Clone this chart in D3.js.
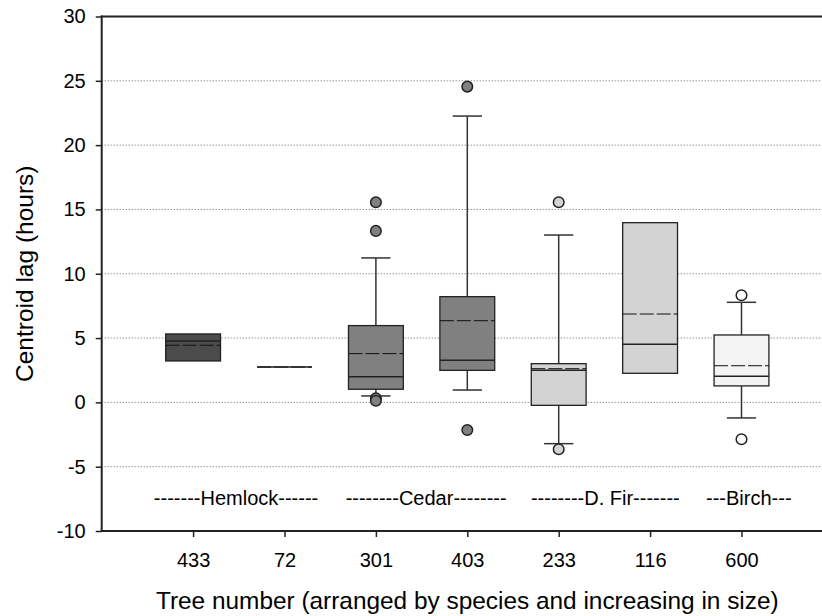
<!DOCTYPE html>
<html>
<head>
<meta charset="utf-8">
<script src="https://cdn.jsdelivr.net/npm/d3@7"></script>
<style>
  html, body { margin: 0; padding: 0; background: #fff; }
  svg { display: block; font-family: "Liberation Sans", Arial, sans-serif; }
</style>
</head>
<body>
<svg id="chart" width="822" height="616"></svg>
<script>
// Tree numbers (x categories) and the species each belongs to
const trees = ["433", "72", "301", "403", "233", "116", "600"];
const species = ["Hemlock", "Hemlock", "Cedar", "Cedar", "D. Fir", "D. Fir", "Birch"];

// Box statistics of centroid lag (hours) per tree
const q1 = [3.22, 2.75, 1.02, 2.49, -0.23, 2.26, 1.28];
const medians = [4.77, 2.75, 2.00, 3.27, 2.49, 4.52, 2.03];
const q3 = [5.32, 2.75, 5.97, 8.22, 3.01, 13.97, 5.24];
const means = [4.44, 2.75, 3.79, 6.35, 2.62, 6.87, 2.85];
const whiskerLow = [null, null, 0.50, 0.96, -3.21, null, -1.21];
const whiskerHigh = [null, null, 11.23, 22.26, 13.01, null, 7.78];
const outliers = [[], [], [15.56, 13.33, 0.32, 0.13], [24.55, -2.15], [15.56, -3.65], [], [8.33, -2.87]];

// Y-axis ticks and gridlines
const yTicks = [-10, -5, 0, 5, 10, 15, 20, 25, 30];
const gridValues = [-5, 0, 5, 10, 15, 20, 25];

// Species group labels with their centre in category units
const groupLabels = ["-------Hemlock------", "--------Cedar--------", "--------D. Fir-------", "---Birch---"];
const groupCenters = [1.47, 3.55, 5.51, 7.08];
const groupLabelY = -8;

// Fill colour per species
const speciesNames = ["Hemlock", "Cedar", "D. Fir", "Birch"];
const speciesFills = ["#4b4b4b", "#808080", "#d3d3d3", "#f3f3f3"];

const svg = d3.select("#chart");
const plotLeft = 101.7, plotTop = 16.5, plotBottom = 531, step = 91.4;

const x = d3.scaleLinear().domain([0, 8]).range([plotLeft, plotLeft + 8 * step]);
const y = d3.scaleLinear().domain([-10, 30]).range([plotBottom, plotTop]);
const fill = d3.scaleOrdinal().domain(speciesNames).range(speciesFills);

const boxW = 0.6 * step;
const capW = 0.32 * step;

// dotted horizontal gridlines
svg.append("g").selectAll("line").data(gridValues).join("line")
  .attr("x1", plotLeft).attr("x2", 822)
  .attr("y1", d => y(d)).attr("y2", d => y(d))
  .attr("stroke", "#666").attr("stroke-width", 1)
  .attr("stroke-dasharray", "1,2");

// y axis (plain hyphen for negative labels)
const yAxis = svg.append("g")
  .attr("transform", `translate(${plotLeft},0)`)
  .call(d3.axisLeft(y).tickValues(yTicks).tickFormat(d => String(d))
    .tickSize(6).tickPadding(10).tickSizeOuter(0));
yAxis.select(".domain").remove();
yAxis.selectAll(".tick line").attr("stroke", "#222").attr("stroke-width", 1.5);
yAxis.selectAll(".tick text").attr("font-size", 20).attr("fill", "#000")
  .attr("font-family", "Liberation Sans, Arial, sans-serif");

// x axis
const idx = d3.range(trees.length);
const xAxis = svg.append("g")
  .attr("transform", `translate(0,${plotBottom})`)
  .call(d3.axisBottom(x).tickValues(idx.map(i => i + 1)).tickFormat(d => trees[d - 1])
    .tickSize(6).tickPadding(16).tickSizeOuter(0));
xAxis.select(".domain").remove();
xAxis.selectAll(".tick line").attr("stroke", "#222").attr("stroke-width", 1.5);
xAxis.selectAll(".tick text").attr("font-size", 20).attr("fill", "#000")
  .attr("font-family", "Liberation Sans, Arial, sans-serif");

// plot frame
const frame = svg.append("g").attr("stroke", "#222").attr("stroke-width", 2).attr("fill", "none");
frame.append("line").attr("x1", plotLeft).attr("x2", plotLeft).attr("y1", y(30) - 1).attr("y2", y(-10) + 1);
frame.append("line").attr("x1", plotLeft - 1).attr("x2", x(8)).attr("y1", y(-10)).attr("y2", y(-10));
frame.append("line").attr("x1", plotLeft - 1).attr("x2", x(8)).attr("y1", y(30)).attr("y2", y(30));
frame.append("line").attr("x1", x(8)).attr("x2", x(8)).attr("y1", y(30)).attr("y2", y(-10));

// boxes, whiskers, median, mean and outliers per tree
const boxes = svg.append("g").selectAll("g").data(idx).join("g");

boxes.each(function (i) {
  const g = d3.select(this);
  const cx = x(i + 1);
  const pairs = [[whiskerHigh[i], q3[i]], [whiskerLow[i], q1[i]]];
  pairs.forEach(([w, edge]) => {
    if (w === null) return;
    g.append("line").attr("x1", cx).attr("x2", cx).attr("y1", y(w)).attr("y2", y(edge))
      .attr("stroke", "#333").attr("stroke-width", 1.5);
    g.append("line").attr("x1", cx - capW / 2).attr("x2", cx + capW / 2).attr("y1", y(w)).attr("y2", y(w))
      .attr("stroke", "#333").attr("stroke-width", 1.5);
  });
  g.append("rect")
    .attr("x", cx - boxW / 2).attr("width", boxW)
    .attr("y", y(q3[i])).attr("height", Math.max(0, y(q1[i]) - y(q3[i])))
    .attr("fill", fill(species[i])).attr("stroke", "#222").attr("stroke-width", 1.3);
  g.append("line").attr("x1", cx - boxW / 2).attr("x2", cx + boxW / 2)
    .attr("y1", y(medians[i])).attr("y2", y(medians[i]))
    .attr("stroke", "#222").attr("stroke-width", 1.5);
  g.append("line").attr("x1", cx - boxW / 2).attr("x2", cx + boxW / 2)
    .attr("y1", y(means[i])).attr("y2", y(means[i]))
    .attr("stroke", "#111").attr("stroke-width", 1)
    .attr("stroke-dasharray", "14,3");
  g.selectAll("circle").data(outliers[i]).join("circle")
    .attr("cx", cx).attr("cy", d => y(d)).attr("r", 5.3)
    .attr("fill", i === 6 ? "#ffffff" : fill(species[i]))
    .attr("stroke", "#222").attr("stroke-width", 1.5);
});

// species group labels
svg.append("g").selectAll("text").data(groupLabels).join("text")
  .attr("x", (d, i) => x(groupCenters[i]))
  .attr("y", y(groupLabelY))
  .attr("text-anchor", "middle").attr("font-size", 20).attr("fill", "#000")
  .text(d => d);

// axis titles
svg.append("text")
  .attr("x", x(4)).attr("y", 609)
  .attr("text-anchor", "middle").attr("font-size", 24.4).attr("fill", "#000")
  .text("Tree number (arranged by species and increasing in size)");

svg.append("text")
  .attr("transform", `translate(33,${(plotTop + plotBottom) / 2}) rotate(-90)`)
  .attr("text-anchor", "middle").attr("font-size", 24.5).attr("fill", "#000")
  .text("Centroid lag (hours)");
</script>
</body>
</html>
